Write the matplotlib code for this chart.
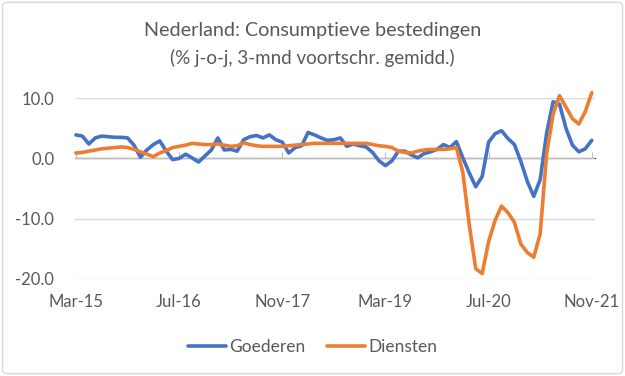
import numpy as np
import matplotlib.pyplot as plt
from matplotlib.patches import FancyBboxPatch

# maanden Mar-15 .. Nov-21
tick_labels = ["Mar-15", "Jul-16", "Nov-17", "Mar-19", "Jul-20", "Nov-21"]

goederen = [3.9, 3.7, 2.4, 3.4, 3.7, 3.6, 3.5, 3.5, 3.4, 2.2,
            0.2, 1.4, 2.3, 2.9, 1.2, -0.2, 0.0, 0.7, 0.1, -0.6,
            0.4, 1.4, 3.4, 1.4, 1.5, 1.2, 3.1, 3.6, 3.8, 3.4,
            3.9, 3.1, 2.7, 0.9, 1.8, 2.1, 4.3, 3.9, 3.4, 3.0,
            3.1, 3.4, 2.0, 2.4, 2.1, 1.9, 1.0, -0.4, -1.2, -0.4,
            1.2, 1.2, 0.6, 0.1, 0.8, 1.1, 1.5, 2.3, 1.8, 2.8,
            0.1, -2.4, -4.7, -3.0, 2.7, 4.1, 4.6, 3.3, 2.3, -0.5,
            -3.8, -6.3, -3.5, 4.2, 9.4, 9.0, 5.0, 2.2, 1.1, 1.6,
            3.0]

diensten = [0.9, 1.0, 1.2, 1.4, 1.6, 1.7, 1.8, 1.9, 1.8, 1.5,
            1.1, 0.7, 0.3, 0.9, 1.3, 1.8, 2.0, 2.2, 2.5, 2.4,
            2.3, 2.3, 2.4, 2.2, 2.0, 2.1, 2.6, 2.3, 2.1, 2.0,
            2.0, 2.0, 2.0, 2.1, 2.2, 2.3, 2.4, 2.5, 2.5, 2.5,
            2.5, 2.5, 2.5, 2.5, 2.5, 2.5, 2.3, 2.1, 2.0, 1.8,
            1.2, 1.0, 0.9, 1.2, 1.4, 1.5, 1.5, 1.5, 1.6, 1.8,
            -2.3, -11.0, -18.3, -19.1, -13.8, -10.3, -7.9, -9.0, -10.6, -14.2,
            -15.6, -16.4, -12.5, 0.8, 7.3, 10.4, 8.5, 6.6, 5.7, 7.8,
            10.9]

x = np.arange(len(goederen))
tick_pos = np.arange(0, len(goederen), 16)

plt.rcParams['font.family'] = ['Lato', 'DejaVu Sans']
grey = '#595959'

fig = plt.figure(figsize=(6.25, 3.76), dpi=100)
fig.patches.append(FancyBboxPatch((0.004, 0.006), 0.992, 0.988,
                                  boxstyle='round,pad=0,rounding_size=0.01',
                                  transform=fig.transFigure, fc='white',
                                  ec='#d9d9d9', lw=1, zorder=-10))

ax = fig.add_axes([0.12, 0.258, 0.832, 0.481])
ax.patch.set_alpha(0)
ax.plot(x, goederen, color='#4472C4', lw=2.6, label='Goederen', zorder=3,
        clip_on=False, solid_joinstyle='round', solid_capstyle='round')
ax.plot(x, diensten, color='#ED7D31', lw=2.6, label='Diensten', zorder=3,
        clip_on=False, solid_joinstyle='round', solid_capstyle='round')

ax.set_ylim(-20, 10)
ax.set_xlim(-0.15, 80.5)
ax.set_yticks([-20, -10, 0, 10])
ax.set_yticklabels(['-20.0', '-10.0', '0.0', '10.0'])
ax.set_xticks(tick_pos)
ax.set_xticklabels(tick_labels)
ax.tick_params(axis='y', length=0, pad=15, labelsize=12, labelcolor=grey)
ax.tick_params(axis='x', length=0, pad=11, labelsize=12, labelcolor=grey)
ax.grid(axis='y', color='#d9d9d9', lw=1)
ax.axhline(0, color='#bfbfbf', lw=1, zorder=2)
for s in ax.spines.values():
    s.set_visible(False)

# tickjes op de nul-as
sec = ax.secondary_xaxis(20 / 30)
sec.set_xticks(tick_pos)
sec.set_xticklabels([])
sec.tick_params(direction='out', length=4, color='#bfbfbf')
sec.spines['bottom'].set_visible(False)

fig.text(0.5, 0.918, 'Nederland: Consumptieve bestedingen', ha='center',
         va='center', fontsize=14.2, color=grey)
fig.text(0.5, 0.845, '(% j-o-j, 3-mnd voortschr. gemidd.)', ha='center',
         va='center', fontsize=13.5, color=grey)

leg = fig.legend(loc='center', bbox_to_anchor=(0.5, 0.077), ncol=2,
                 frameon=False, fontsize=12.5, handlelength=2.2,
                 handletextpad=0.2, columnspacing=1.2)
for t in leg.get_texts():
    t.set_color(grey)

fig.savefig('out.png', dpi=100)
